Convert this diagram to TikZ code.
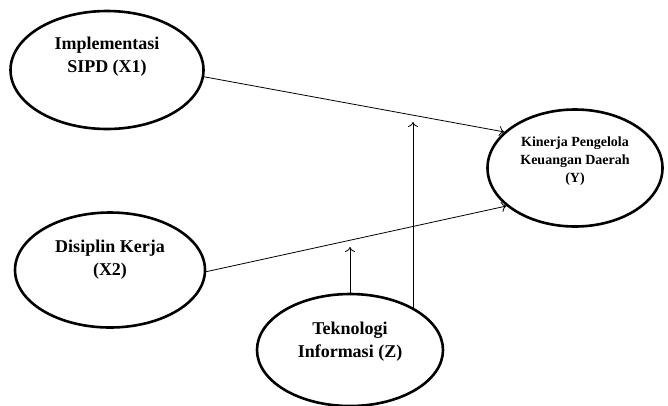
\documentclass[tikz,border=0pt]{standalone}
\usepackage{fontspec}
\setmainfont{Liberation Serif}
\usetikzlibrary{shapes.geometric,arrows.meta}
\begin{document}
\begin{tikzpicture}[x=1pt,y=-1pt,
  var/.style={ellipse,draw,line width=2.6pt,inner sep=0pt},
  txt/.style={align=center,inner sep=0pt,font=\fontsize{18}{23}\selectfont\bfseries},
  conn/.style={line width=0.8pt,-{To[length=5pt,width=10pt]}}]
\useasboundingbox[fill=white] (0,0) rectangle (668,405);
\node[var,minimum width=193pt,minimum height=118pt] (x1) at (107,70) {};
\node[var,minimum width=190pt,minimum height=115pt] (x2) at (110,270) {};
\node[var,minimum width=175pt,minimum height=117pt] (y) at (575,168) {};
\node[var,minimum width=186pt,minimum height=112pt] (z) at (350,350) {};
\node[txt] (x1t) at ([yshift=13pt]x1.center) {Implementasi\\SIPD (X1)};
\node[txt] (x2t) at ([yshift=10pt]x2.center) {Disiplin Kerja\\(X2)};
\node[txt,font=\fontsize{14}{18}\selectfont\bfseries] (yt) at ([yshift=7pt]y.center) {Kinerja Pengelola\\Keuangan Daerah\\(Y)};
\node[txt] (zt) at ([yshift=8pt]z.center) {Teknologi\\Informasi (Z)};
\coordinate (c1) at (350,247);
\coordinate (c2) at (413,122);
\draw[conn] (x1.-4) -- (y.153);
\draw[conn] (x2.-1) -- (y.209);
\draw[conn] (z.north) -- (c1);
\draw[conn] (c2 |- z.33) -- (c2);
\end{tikzpicture}
\end{document}
